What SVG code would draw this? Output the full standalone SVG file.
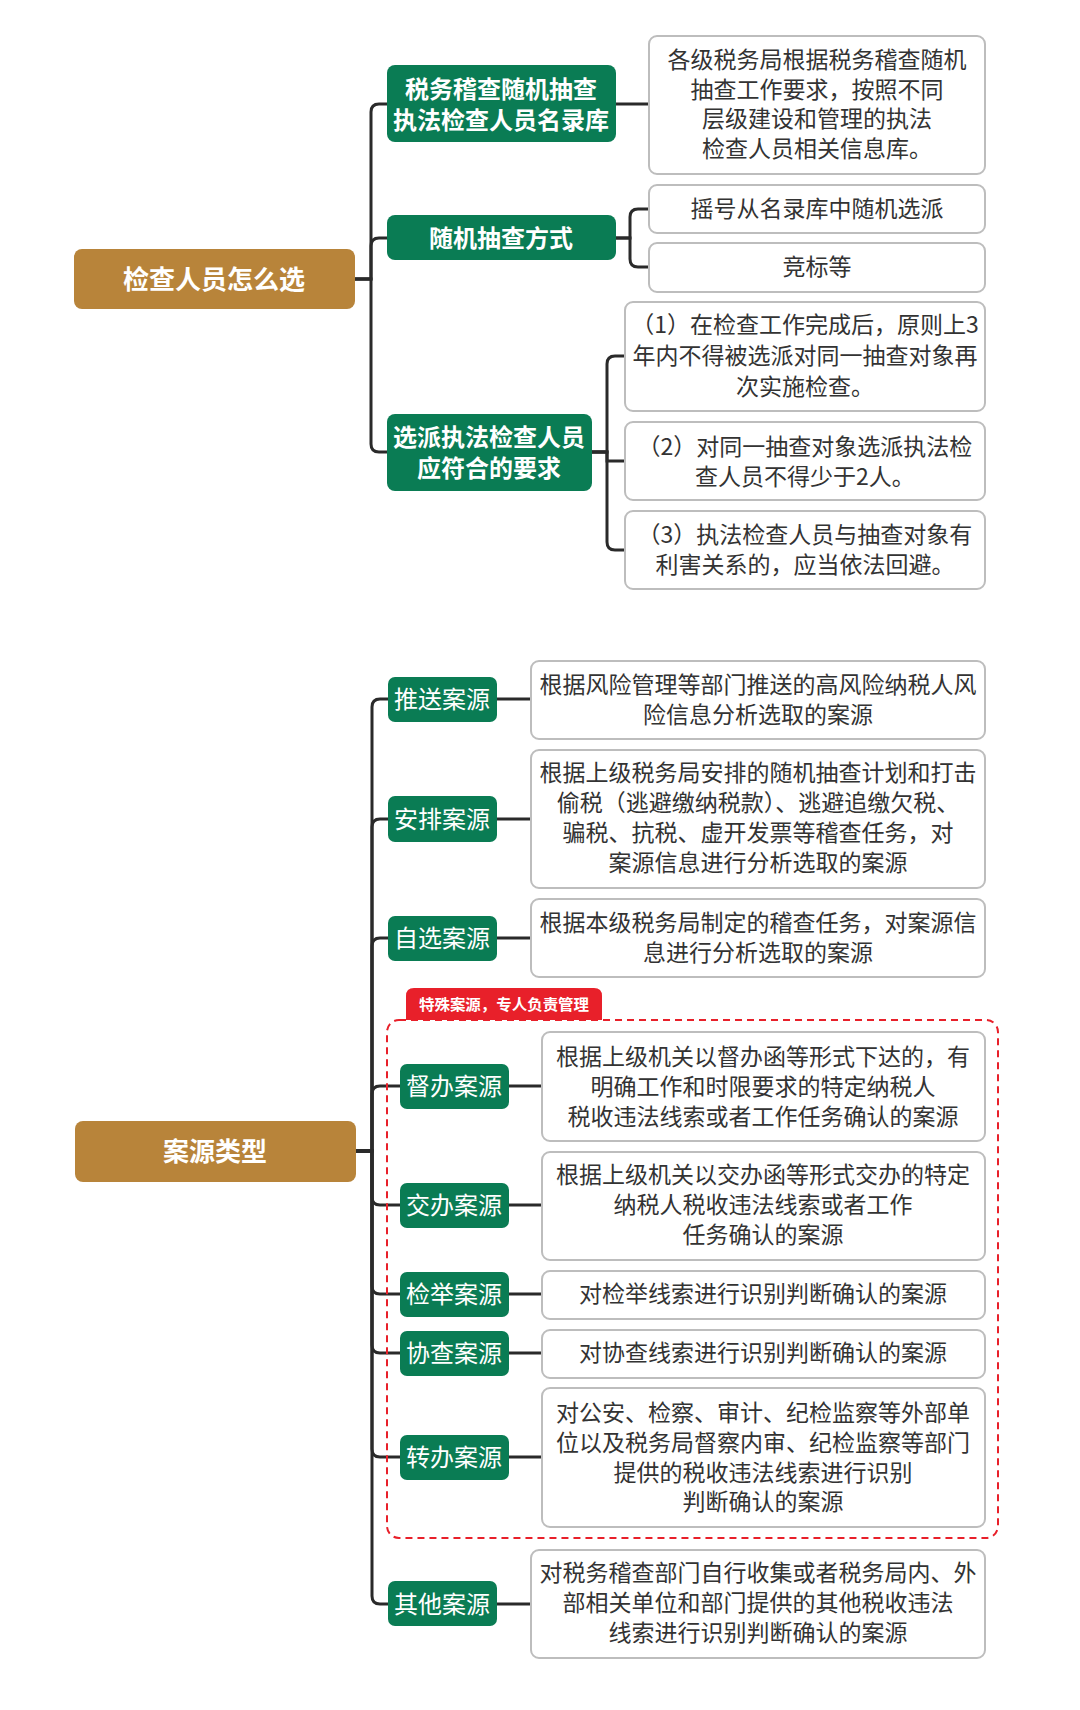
<svg xmlns="http://www.w3.org/2000/svg" width="1080" height="1710" viewBox="0 0 1080 1710">
<style>
text{font-family:"Noto Sans CJK SC","Noto Sans",sans-serif;dominant-baseline:central;text-anchor:middle;transform:translateY(-2px)}
.root rect{fill:#B8843A}
.root text{fill:#fff;font-size:26px;font-weight:bold}
.g rect{fill:#0A7C54}
.g text{fill:#fff;font-size:24px}
.gb text{font-weight:bold}
.d rect{fill:#fff;stroke:#bdbdbd;stroke-width:2}
.d text{fill:#333;font-size:23px}
.conn path{fill:none;stroke:#2a2a2a;stroke-width:3}
</style>
<rect width="1080" height="1710" fill="#fff"/>
<g class="conn">
<path d="M355 279H371V112Q371 104 379 104H387"/>
<path d="M355 279H371V246Q371 238 379 238H387"/>
<path d="M355 279H371V444Q371 452 379 452H387"/>
<path d="M616 104H649"/>
<path d="M616 238H630V217Q630 209 638 209H649"/>
<path d="M616 238H630V259Q630 267 638 267H649"/>
<path d="M592 452H607V364Q607 356 615 356H625"/>
<path d="M592 452H607V542Q607 550 615 550H625"/>
<path d="M592 452H607V461H625"/>
<path d="M356 1151H372V707Q372 699 380 699H388"/>
<path d="M356 1151H372V827Q372 819 380 819H388"/>
<path d="M356 1151H372V946Q372 938 380 938H388"/>
<path d="M356 1151H372V1094Q372 1086 380 1086H400"/>
<path d="M356 1151H372V1197Q372 1205 380 1205H400"/>
<path d="M356 1151H372V1286Q372 1294 380 1294H400"/>
<path d="M356 1151H372V1345Q372 1353 380 1353H400"/>
<path d="M356 1151H372V1449Q372 1457 380 1457H400"/>
<path d="M356 1151H372V1596Q372 1604 380 1604H388"/>
<path d="M497 699H531"/>
<path d="M497 819H531"/>
<path d="M497 938H531"/>
<path d="M509 1086H542"/>
<path d="M509 1205H542"/>
<path d="M509 1294H542"/>
<path d="M509 1353H542"/>
<path d="M509 1457H542"/>
<path d="M497 1604H531"/>
</g>
<g id="root1" class="root"><rect x="74" y="249" width="281" height="60" rx="8"/><text x="214" y="279">检查人员怎么选</text></g>
<g id="n1" class="g gb"><rect x="387" y="65" width="229" height="77" rx="8"/><text x="501" y="89">税务稽查随机抽查</text><text x="501" y="120">执法检查人员名录库</text></g>
<g id="n2" class="g gb"><rect x="387" y="215" width="229" height="45" rx="8"/><text x="501" y="238">随机抽查方式</text></g>
<g id="n3" class="g gb"><rect x="387" y="414" width="205" height="77" rx="8"/><text x="489" y="437">选派执法检查人员</text><text x="489" y="468">应符合的要求</text></g>
<g id="d1" class="d"><rect x="649" y="36" width="336" height="138" rx="8"/><text x="817" y="60">各级税务局根据税务稽查随机</text><text x="817" y="90">抽查工作要求，按照不同</text><text x="817" y="119">层级建设和管理的执法</text><text x="817" y="149">检查人员相关信息库。</text></g>
<g id="d2" class="d"><rect x="649" y="185" width="336" height="48" rx="8"/><text x="817" y="209">摇号从名录库中随机选派</text></g>
<g id="d3" class="d"><rect x="649" y="243" width="336" height="49" rx="8"/><text x="817" y="267">竞标等</text></g>
<g id="d4" class="d"><rect x="625" y="302" width="360" height="109" rx="8"/><text x="805" y="325">（1）在检查工作完成后，原则上3</text><text x="805" y="356">年内不得被选派对同一抽查对象再</text><text x="805" y="387">次实施检查。</text></g>
<g id="d5" class="d"><rect x="625" y="422" width="360" height="78" rx="8"/><text x="805" y="447">（2）对同一抽查对象选派执法检</text><text x="805" y="477">查人员不得少于2人。</text></g>
<g id="d6" class="d"><rect x="625" y="511" width="360" height="78" rx="8"/><text x="805" y="535">（3）执法检查人员与抽查对象有</text><text x="805" y="565">利害关系的，应当依法回避。</text></g>

<g id="special">
<rect x="387" y="1020" width="611" height="518" rx="12" fill="none" stroke="#E8202A" stroke-width="2" stroke-dasharray="7 5"/>
<path d="M406 1020V996Q406 988 414 988H594Q602 988 602 996V1020Z" fill="#E8202A"/>
<text x="504" y="1005" fill="#fff" font-size="15" font-weight="bold" textLength="170" lengthAdjust="spacingAndGlyphs">特殊案源，专人负责管理</text>
</g>
<g id="root2" class="root"><rect x="75" y="1121" width="281" height="61" rx="8"/><text x="215" y="1151">案源类型</text></g>
<g id="s1" class="g"><rect x="388" y="677" width="109" height="45" rx="7"/><text x="442" y="699">推送案源</text></g>
<g id="s2" class="g"><rect x="388" y="796" width="109" height="46" rx="7"/><text x="442" y="819">安排案源</text></g>
<g id="s3" class="g"><rect x="388" y="916" width="109" height="45" rx="7"/><text x="442" y="938">自选案源</text></g>
<g id="s4" class="g"><rect x="400" y="1064" width="109" height="45" rx="7"/><text x="454" y="1086">督办案源</text></g>
<g id="s5" class="g"><rect x="400" y="1183" width="109" height="45" rx="7"/><text x="454" y="1205">交办案源</text></g>
<g id="s6" class="g"><rect x="400" y="1272" width="109" height="45" rx="7"/><text x="454" y="1294">检举案源</text></g>
<g id="s7" class="g"><rect x="400" y="1331" width="109" height="45" rx="7"/><text x="454" y="1353">协查案源</text></g>
<g id="s8" class="g"><rect x="400" y="1435" width="109" height="45" rx="7"/><text x="454" y="1457">转办案源</text></g>
<g id="s9" class="g"><rect x="388" y="1581" width="109" height="45" rx="7"/><text x="442" y="1604">其他案源</text></g>

<g id="t1" class="d"><rect x="531" y="661" width="454" height="78" rx="8"/><text x="758" y="685">根据风险管理等部门推送的高风险纳税人风</text><text x="758" y="715">险信息分析选取的案源</text></g>
<g id="t2" class="d"><rect x="531" y="750" width="454" height="138" rx="8"/><text x="758" y="773">根据上级税务局安排的随机抽查计划和打击</text><text x="758" y="803">偷税（逃避缴纳税款）、逃避追缴欠税、</text><text x="758" y="833">骗税、抗税、虚开发票等稽查任务，对</text><text x="758" y="863">案源信息进行分析选取的案源</text></g>
<g id="t3" class="d"><rect x="531" y="899" width="454" height="78" rx="8"/><text x="758" y="923">根据本级税务局制定的稽查任务，对案源信</text><text x="758" y="953">息进行分析选取的案源</text></g>
<g id="t4" class="d"><rect x="542" y="1032" width="443" height="109" rx="8"/><text x="763" y="1057">根据上级机关以督办函等形式下达的，有</text><text x="763" y="1087">明确工作和时限要求的特定纳税人</text><text x="763" y="1117">税收违法线索或者工作任务确认的案源</text></g>
<g id="t5" class="d"><rect x="542" y="1152" width="443" height="108" rx="8"/><text x="763" y="1175">根据上级机关以交办函等形式交办的特定</text><text x="763" y="1205">纳税人税收违法线索或者工作</text><text x="763" y="1235">任务确认的案源</text></g>
<g id="t6" class="d"><rect x="542" y="1271" width="443" height="48" rx="8"/><text x="763" y="1294">对检举线索进行识别判断确认的案源</text></g>
<g id="t7" class="d"><rect x="542" y="1330" width="443" height="48" rx="8"/><text x="763" y="1353">对协查线索进行识别判断确认的案源</text></g>
<g id="t8" class="d"><rect x="542" y="1388" width="443" height="139" rx="8"/><text x="763" y="1413">对公安、检察、审计、纪检监察等外部单</text><text x="763" y="1443">位以及税务局督察内审、纪检监察等部门</text><text x="763" y="1473">提供的税收违法线索进行识别</text><text x="763" y="1502">判断确认的案源</text></g>
<g id="t9" class="d"><rect x="531" y="1550" width="454" height="108" rx="8"/><text x="758" y="1573">对税务稽查部门自行收集或者税务局内、外</text><text x="758" y="1603">部相关单位和部门提供的其他税收违法</text><text x="758" y="1633">线索进行识别判断确认的案源</text></g>
</svg>
